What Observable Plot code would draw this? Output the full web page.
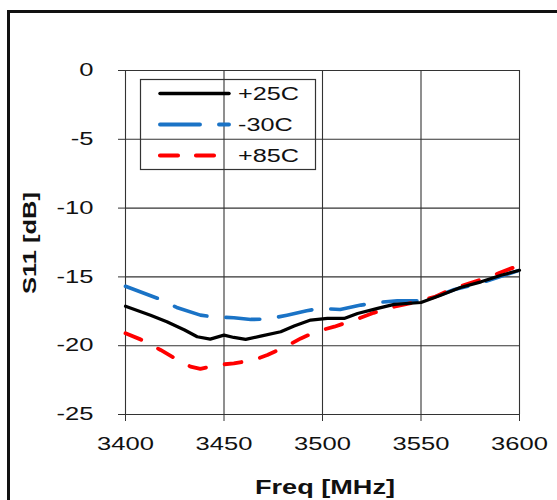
<!DOCTYPE html>
<html><head><meta charset="utf-8">
<script src="https://cdn.jsdelivr.net/npm/d3@7"></script>
<script src="https://cdn.jsdelivr.net/npm/@observablehq/plot@0.6"></script>
<style>
body{margin:0;background:#fff;overflow:hidden}
#frame{position:absolute;left:7px;top:10px;width:620px;height:620px;border:3px solid #111;box-sizing:border-box}
#chart{position:absolute;left:0;top:0}
svg text{font-family:Arial,"Liberation Sans",sans-serif}
</style></head><body>
<div id="frame"></div><div id="chart"></div>
<script>
// ---- data ----
const seriesNames = ["+25C", "-30C", "+85C"];
const seriesColors = ["#000000", "#1a73c6", "#ff0000"];

const freq25 = [3400,3412.7,3421,3430,3436.4,3443,3450,3455,3461,3468.6,3478.8,3485.6,3494,3502.5,3511,3517.8,3528,3536.4,3550,3560,3570,3580.5,3590.7,3600];
const s11_25 = [-17.13,-17.78,-18.26,-18.86,-19.35,-19.52,-19.23,-19.40,-19.54,-19.30,-18.99,-18.57,-18.14,-18.02,-18.02,-17.66,-17.29,-17.0,-16.86,-16.33,-15.77,-15.36,-14.88,-14.52];

const freqM30 = [3400,3417.8,3426,3438,3444,3455,3463.6,3472,3482,3492,3499,3509,3519.5,3528,3538,3548,3557,3567,3580.5,3590.7,3600];
const s11_m30 = [-15.68,-16.64,-17.22,-17.78,-17.9,-17.97,-18.09,-18.07,-17.78,-17.46,-17.29,-17.37,-17.05,-16.86,-16.74,-16.74,-16.45,-15.92,-15.43,-14.95,-14.52];

const freq85 = [3400,3407.6,3417.8,3426,3433,3438,3446.6,3455,3465,3472,3480.5,3489,3497.5,3506,3516,3526,3536.4,3548,3557,3565,3577,3589,3600];
const s11_85 = [-19.1,-19.54,-20.31,-20.99,-21.52,-21.69,-21.4,-21.28,-21.04,-20.68,-20.12,-19.47,-18.94,-18.62,-18.14,-17.61,-17.17,-16.81,-16.45,-15.92,-15.36,-14.76,-14.15];

const xTicks = [3400, 3450, 3500, 3550, 3600];
const yTicks = [0, -5, -10, -15, -20, -25];
const xLabel = "Freq [MHz]";
const yLabel = "S11 [dB]";

// ---- build table ----
const toRows = (name, fs, vs) => fs.map((f, i) => ({series: name, freq: f, s11: vs[i]}));
const d25 = toRows(seriesNames[0], freq25, s11_25);
const dM30 = toRows(seriesNames[1], freqM30, s11_m30);
const d85 = toRows(seriesNames[2], freq85, s11_85);

const styles = [
  {stroke: seriesColors[0], strokeWidth: 3.2, dash: null},
  {stroke: seriesColors[1], strokeWidth: 3.6, dash: "34,19"},
  {stroke: seriesColors[2], strokeWidth: 3.8, dash: "17,19"}
];

const W = 557, H = 500;
const chart = Plot.plot({
  width: W, height: H,
  marginLeft: 125, marginRight: 38, marginTop: 70, marginBottom: 86,
  style: {fontSize: "18px", fontFamily: "Arial, 'Liberation Sans', sans-serif", color: "#111", background: "transparent"},
  x: {domain: [3400, 3600], label: null},
  y: {domain: [-25, 0], label: null},
  marks: [
    Plot.gridX(xTicks, {stroke: "#333", strokeOpacity: 1, strokeWidth: 1.1}),
    Plot.gridY(yTicks, {stroke: "#333", strokeOpacity: 1, strokeWidth: 1.1}),
    Plot.axisX({ticks: xTicks, tickSize: 7, tickPadding: 16, tickFormat: d => String(d), stroke: "#333", fill: "#111", label: null}),
    Plot.axisY({ticks: yTicks, tickSize: 7, tickPadding: 25, tickFormat: d => String(d), stroke: "#333", fill: "#111", label: null}),
    Plot.line(dM30, {x: "freq", y: "s11", stroke: styles[1].stroke, strokeWidth: styles[1].strokeWidth, strokeDasharray: styles[1].dash, strokeLinecap: "round", strokeLinejoin: "round"}),
    Plot.line(d85, {x: "freq", y: "s11", stroke: styles[2].stroke, strokeWidth: styles[2].strokeWidth, strokeDasharray: styles[2].dash, strokeLinecap: "round", strokeLinejoin: "round"}),
    Plot.line(d25, {x: "freq", y: "s11", stroke: styles[0].stroke, strokeWidth: styles[0].strokeWidth, strokeLinejoin: "round"})
  ]
});
document.getElementById("chart").appendChild(chart);

// horizontally widen the tick labels to match the reference's wide lettering
const svg = d3.select(chart);
function stretch(sel, k) {
  sel.each(function() {
    const L = this.getComputedTextLength();
    this.setAttribute("textLength", L * k);
    this.setAttribute("lengthAdjust", "spacingAndGlyphs");
  });
}
stretch(svg.selectAll("g[aria-label$='tick label'] text"), 1.42);

// axis titles
svg.append("text").text(xLabel)
  .attr("x", 325).attr("y", 494)
  .attr("text-anchor", "middle").attr("font-weight", "bold").attr("font-size", 20).attr("fill", "#111")
  .attr("textLength", 140).attr("lengthAdjust", "spacingAndGlyphs");
svg.append("text").text(yLabel)
  .attr("transform", "translate(36,243) rotate(-90)")
  .attr("text-anchor", "middle").attr("font-weight", "bold").attr("font-size", 18).attr("fill", "#111")
  .attr("textLength", 102).attr("lengthAdjust", "spacingAndGlyphs");

// legend (no fill, gridlines show through)
const lg = svg.append("g").attr("text-anchor", "start");
lg.append("rect").attr("x", 140.5).attr("y", 79.5).attr("width", 175).attr("height", 90)
  .attr("fill", "none").attr("stroke", "#333").attr("stroke-width", 1.2);
seriesNames.forEach((name, i) => {
  const yy = 93.5 + i * 31;
  const st = styles[i];
  lg.append("line").attr("x1", 160).attr("x2", 229).attr("y1", yy).attr("y2", yy)
    .attr("stroke", st.stroke).attr("stroke-width", st.strokeWidth + 0.3)
    .attr("stroke-linecap", "round")
    .attr("stroke-dasharray", i === 1 ? "40,19" : i === 2 ? "18,18" : null);
  const t = lg.append("text").text(name).attr("x", 238).attr("y", yy).attr("dy", "0.35em")
    .attr("text-anchor", "start").attr("font-size", 18).attr("fill", "#111");
  stretch(t, 1.4);
});
</script></body></html>
